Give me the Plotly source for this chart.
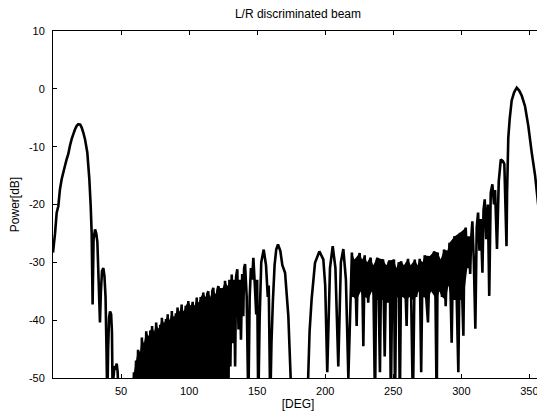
import plotly.graph_objects as go

# ---- data (angle in degrees, power in dB) ----
# left main lobe and its first side lobes
deg_left = [0, 1.5, 2.7, 3.9, 5.1, 6.4, 8.8, 10.0, 11.2, 12.5, 13.7, 15.0, 16.2, 17.4, 18.6,
            20.0, 21.1, 22.3, 23.5, 25.2, 26.7, 27.7, 28.4, 29.1, 29.8, 30.9, 31.8, 32.6,
            33.5, 34.5, 35.2, 36.0, 37.0, 37.8, 38.6, 39.3, 39.9, 40.5, 41.2, 41.9, 42.7,
            43.3, 43.9, 44.4, 45.2, 46.2, 46.8, 47.5, 48.5]
db_left = [-28.3, -25.0, -21.4, -20.3, -17.4, -15.6, -13.3, -12.2, -11.3, -9.8, -8.7, -7.8, -7.0, -6.4, -6.1,
           -6.2, -6.7, -7.6, -8.7, -11.0, -15.6, -20.3, -24.9, -37.3, -26.0, -24.3, -25.0, -26.5,
           -33.0, -40.4, -35.0, -31.5, -31.0, -32.4, -36.0, -45.0, -55.0, -45.0, -39.5, -38.5, -39.0,
           -42.0, -55.0, -50.0, -48.0, -48.2, -47.5, -49.0, -55.0]

# dense side-lobe region between the main lobes (left part up to the null near 175 deg)
deg_mid = [58.5, 59.5, 60.2, 61.0, 61.7, 62.5, 63.2, 64.0, 64.7, 65.3, 66.0, 66.8, 67.5, 68.5, 69.2,
           70.0, 70.7, 71.5, 72.2, 72.8, 73.5, 74.3, 75.0, 75.8, 76.5, 77.3, 78.0, 78.8, 79.5,
           80.0, 80.8, 81.5, 82.2, 83.0, 83.7, 84.3, 85.0, 85.8, 86.5, 87.3, 88.0, 88.8, 89.5,
           90.3, 91.0, 91.5, 92.2, 93.0, 93.7, 94.5, 95.2, 96.0, 96.7, 97.5, 98.2, 99.4, 100.2,
           101.0, 101.8, 102.6, 103.3, 104.0, 104.8, 105.6, 106.3, 107.0, 107.7, 108.5, 109.2,
           110.4, 111.2, 112.0, 112.7, 113.3, 114.1, 114.7, 115.5, 116.2, 117.0, 117.8, 118.5,
           119.2, 120.0, 120.8, 121.5, 122.3, 123.0, 123.8, 124.6, 125.3, 126.4, 127.2, 128.0,
           128.8, 129.6, 130.3, 131.3, 132.3, 133.0, 133.8, 134.5, 135.4, 136.3, 137.2, 138.1,
           139.0, 139.8, 140.4, 141.1, 142.3, 143.5, 144.5, 145.4, 146.3, 147.2, 148.3, 149.3,
           150.0, 150.8, 151.8, 153.0, 154.8, 156.5, 157.8, 158.5, 159.6, 160.5, 161.5, 162.8,
           164.0, 165.3, 167.0, 168.5, 170.5, 172.9, 175.4]
db_mid = [-55, -49, -55, -47, -55, -45.1, -55, -45.5, -55, -43, -55, -44, -55, -41.9, -55,
          -42.8, -55, -41.8, -55, -41, -55, -42, -55, -40.4, -55, -41.5, -55, -40.8, -55,
          -39.6, -47, -40.5, -55, -39.8, -55, -39, -55, -40, -55, -38.4, -55, -39.5, -55,
          -38.8, -55, -37.8, -55, -38.5, -47, -37.3, -55, -38.5, -55, -37.5, -55, -36.7, -48,
          -37.5, -47, -36.8, -55, -37.5, -48, -36.1, -55, -37, -55, -36, -55,
          -35.2, -55, -36, -55, -35.5, -35, -55, -36, -55, -35, -34.4, -55,
          -35.5, -55, -34.8, -34.1, -55, -34.5, -46, -34.5, -55, -33.2, -42.2, -34,
          -55, -33, -48, -32.1, -44, -33, -48, -32.5, -31.2, -41.6, -33, -43.4,
          -32, -39.3, -31, -30.3, -36, -55, -36, -31, -33, -29.2, -34, -39,
          -33, -55, -40, -30, -27.8, -30.5, -36, -34, -55, -44, -37, -30.5,
          -27.8, -26.9, -28, -30.5, -31.8, -39.3, -55]

# right part: separate lobes, dense region and the right main lobe
deg_right = [186.8, 188.5, 190.0, 192.5, 195.7, 198.6, 200.0, 201.5, 203.5, 205.5, 207.5, 209.6,
             211.5, 213.3, 215.2, 217.0, 219.6, 220.6, 221.4, 222.3, 223.1, 224.0, 225.3, 226.2,
             227.0, 228.0, 229.0, 229.8, 230.7, 231.6, 232.5, 233.4, 234.3, 235.2, 236.6, 237.5,
             238.3, 239.3, 240.2, 241.1, 242.5, 243.7, 244.8, 245.8, 246.6, 247.4, 248.2, 249.3,
             250.5, 251.3, 252.2, 253.2, 254.0, 254.8, 255.8, 256.8, 257.8, 259.0, 259.8, 260.8,
             261.8, 262.8, 264.4, 265.8, 266.8, 267.8, 268.7, 269.4, 270.5, 271.5, 272.3, 273.1,
             274.2, 275.5, 276.8, 277.8, 278.8, 280.0, 281.0, 281.9, 282.6, 283.8, 284.8, 285.8,
             287.3, 288.5, 289.7, 290.5, 291.3, 292.9, 294.0, 295.1, 296.3, 297.8, 299.0, 300.3,
             301.5, 302.3, 303.2, 304.4, 305.4, 306.5, 307.2, 308.1, 309.2, 310.3, 311.3, 312.3,
             313.3, 314.2, 315.5, 316.3, 317.2, 318.3, 319.5, 320.5, 321.6, 322.8, 324.0, 324.8,
             326.2, 327.5, 329.0, 330.5, 331.6, 333.2, 333.6, 334.5, 335.5, 337.0, 338.8, 340.7,
             342.5, 344.4, 346.8, 349.2, 351.7, 354.2, 356.6, 359.0, 360.0]
db_right = [-55, -42, -36.4, -30.1, -28.1, -29.5, -34, -49, -31, -27.2, -31, -48,
            -30, -27.7, -33, -50, -28.3, -36, -29.5, -34, -41, -30, -28.4, -35,
            -29.5, -44.5, -28.8, -36, -30, -37, -29.8, -29.2, -35, -30.5, -55, -30,
            -29.2, -36, -49, -30, -29.5, -46.3, -30.5, -37, -30, -29.7, -55, -31,
            -29.5, -55, -31, -36, -30, -55, -29.8, -36, -30.5, -35, -41, -29.4,
            -36, -30.5, -55, -29.5, -36, -30.5, -35, -29.4, -49, -30, -36, -28.8,
            -36, -40.4, -28.9, -35, -30, -28.1, -36, -55, -28.3, -35, -29.5, -36,
            -27.8, -37.6, -28, -34, -26.6, -43.9, -27, -25.5, -33, -49, -24.9, -33,
            -42.7, -26, -24, -31, -25.5, -32, -26, -22.9, -30, -41.5, -24, -21.4,
            -28, -22.5, -31.8, -21, -19.1, -26, -20, -35.8, -18, -16.5, -20, -17.5,
            -27.7, -16, -12.2, -12.5, -13, -27.2, -18, -8.5, -5.3, -2.0, -0.6, 0.2,
            -0.3, -1.2, -3.0, -6.4, -11.0, -15.0, -20.3, -25.4, -27.5]

gap_deg = [175.4, 186.8]
gap_db = [-55, -55]

# angular spans where the scanned trace merges into a solid black band
solid_left_span = [59.0, 129.0]      # band reaches the bottom of the axes
solid_right_span = [219.0, 305.0]    # band reaches down to about this level:
solid_right_floor = -36.5

x_ticks = [50, 100, 150, 200, 250, 300, 350]
y_ticks = [-50, -40, -30, -20, -10, 0, 10]
y_tick_text = ["-50", "-40", "-30", "-20", "-10", "0", "10"]

deg_all = deg_left + deg_mid + gap_deg + deg_right
db_all = db_left + db_mid + gap_db + db_right


def local_extrema(xs, ys, lo, hi):
    """Peaks and troughs of the read trace inside [lo, hi]."""
    px, py, tx, ty = [], [], [], []
    for i in range(1, len(xs) - 1):
        if not (lo <= xs[i] <= hi):
            continue
        if ys[i] >= ys[i - 1] and ys[i] >= ys[i + 1]:
            px.append(xs[i]); py.append(ys[i])
        elif ys[i] <= ys[i - 1] and ys[i] <= ys[i + 1]:
            tx.append(xs[i]); ty.append(ys[i])
    return px, py, tx, ty


font_family = "Liberation Sans, Arial, sans-serif"
fig = go.Figure()

# solid band left: between the peak envelope and the bottom of the axes
pxl, pyl, _, _ = local_extrema(deg_all, db_all, *solid_left_span)
fig.add_trace(go.Scatter(x=pxl + pxl[::-1], y=pyl + [-55] * len(pxl),
                         fill="toself", fillcolor="black", mode="lines",
                         line=dict(width=0, color="black"),
                         showlegend=False, hoverinfo="skip"))

# solid band right: between the peak envelope and the shallow troughs
pxr, pyr, txr, tyr = local_extrema(deg_all, db_all, *solid_right_span)
floor_r = [max(v, solid_right_floor) for v in tyr]
fig.add_trace(go.Scatter(x=pxr + txr[::-1], y=pyr + floor_r[::-1],
                         fill="toself", fillcolor="black", mode="lines",
                         line=dict(width=0, color="black"),
                         showlegend=False, hoverinfo="skip"))

fig.add_trace(go.Scatter(x=deg_all, y=db_all, mode="lines",
                         line=dict(color="black", width=2.6, simplify=False),
                         showlegend=False, hoverinfo="skip"))

# the page body keeps its default 8 px margin, so the figure is 8 px smaller
fig.update_layout(
    width=537, height=411,
    margin=dict(l=45, r=2, t=23, b=41, autoexpand=False),
    paper_bgcolor="white", plot_bgcolor="white",
    title=dict(text="L/R discriminated beam", x=0.54, xanchor="center",
               y=0.985, yanchor="middle",
               font=dict(family=font_family, size=12, color="black")),
    font=dict(family=font_family, size=11, color="black"),
)
fig.update_xaxes(range=[0, 360], tickvals=x_ticks, ticks="inside", ticklen=4,
                 tickcolor="black", showline=True, linecolor="black", linewidth=1,
                 mirror="ticks", showgrid=False, zeroline=False, automargin=False,
                 ticklabelstandoff=3,
                 title=dict(text="[DEG]", standoff=3,
                            font=dict(family=font_family, size=12)))
fig.update_yaxes(range=[-50, 10], tickvals=y_ticks, ticktext=y_tick_text,
                 ticks="inside", ticklen=4, tickcolor="black", showline=True,
                 linecolor="black", linewidth=1, mirror="ticks", showgrid=False,
                 zeroline=False, automargin=False, ticklabelstandoff=5,
                 title=dict(text="Power[dB]", standoff=9,
                            font=dict(family=font_family, size=12)))

fig.write_html("out.html")
